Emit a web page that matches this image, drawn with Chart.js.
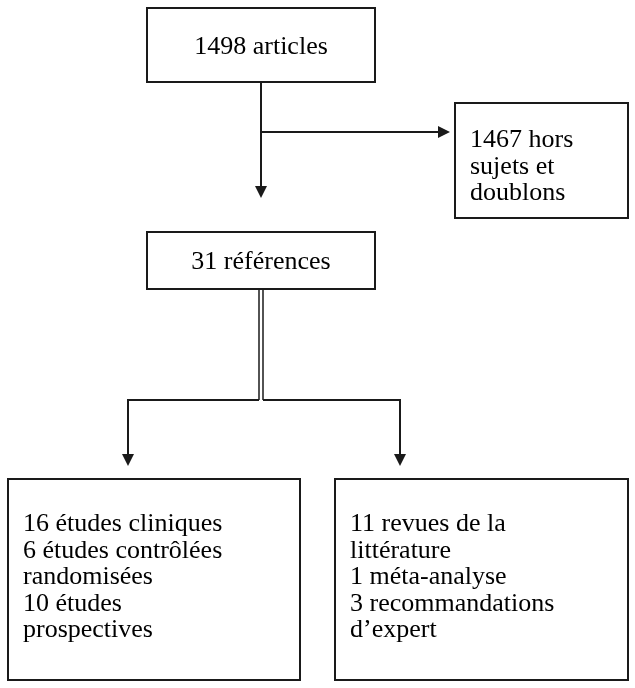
<!DOCTYPE html>
<html>
<head>
<meta charset="utf-8">
<script src="https://cdn.jsdelivr.net/npm/chart.js@4.4.1/dist/chart.umd.min.js"></script>
<style>
  html, body { margin: 0; padding: 0; background: #fff; }
  canvas { display: block; }
</style>
</head>
<body>
<canvas id="flowCanvas" width="635" height="688"></canvas>
<script>
// texte de chaque case
const totalLines = ['1498 articles'];
const excludedLines = ['1467 hors', 'sujets et', 'doublons'];
const retainedLines = ['31 références'];
const studyLines = ['16 études cliniques', '6 études contrôlées', 'randomisées', '10 études', 'prospectives'];
const reviewLines = ['11 revues de la', 'littérature', '1 méta-analyse', '3 recommandations', 'd’expert'];

// mise en page, en unités des axes (x 0-635, y 0-688)
const layout = {
  total:    { x0: 147, x1: 375, y0: 8,   y1: 82,  align: 'center', base: 54 },
  excluded: { x0: 455, x1: 628, y0: 103, y1: 218, align: 'left', base: 147 },
  retained: { x0: 147, x1: 375, y0: 232, y1: 289, align: 'center', base: 269 },
  studies:  { x0: 8,   x1: 300, y0: 479, y1: 680, align: 'left', base: 531 },
  reviews:  { x0: 335, x1: 628, y0: 479, y1: 680, align: 'left', base: 531 }
};
const lineGap = 26.5;
const padLeft = 15;

const flowPlugin = {
  id: 'flow',
  afterDraw(chart) {
    const ctx = chart.ctx;
    const sx = chart.scales.x, sy = chart.scales.y;
    const px = v => sx.getPixelForValue(v);
    const py = v => sy.getPixelForValue(v);

    ctx.save();
    ctx.strokeStyle = '#1a1a1a';
    ctx.fillStyle = '#1a1a1a';
    ctx.lineWidth = 2;

    const line = (x0, y0, x1, y1) => {
      ctx.beginPath();
      ctx.moveTo(px(x0), py(y0));
      ctx.lineTo(px(x1), py(y1));
      ctx.stroke();
    };
    const arrowDown = (x, y) => {
      ctx.beginPath();
      ctx.moveTo(px(x), py(y));
      ctx.lineTo(px(x - 6), py(y - 12));
      ctx.lineTo(px(x + 6), py(y - 12));
      ctx.closePath();
      ctx.fill();
    };
    const arrowRight = (x, y) => {
      ctx.beginPath();
      ctx.moveTo(px(x), py(y));
      ctx.lineTo(px(x - 12), py(y - 6));
      ctx.lineTo(px(x - 12), py(y + 6));
      ctx.closePath();
      ctx.fill();
    };

    const drawBox = (b, lines) => {
      ctx.strokeRect(px(b.x0), py(b.y0), px(b.x1) - px(b.x0), py(b.y1) - py(b.y0));
      ctx.font = '26px "Liberation Serif", "Times New Roman", serif';
      ctx.textBaseline = 'alphabetic';
      ctx.fillStyle = '#000';
      lines.forEach((t, i) => {
        const yy = py(b.base + i * lineGap);
        if (b.align === 'center') {
          ctx.textAlign = 'center';
          ctx.fillText(t, px((b.x0 + b.x1) / 2), yy);
        } else {
          ctx.textAlign = 'left';
          ctx.fillText(t, px(b.x0 + padLeft), yy);
        }
      });
      ctx.fillStyle = '#1a1a1a';
    };

    drawBox(layout.total, totalLines);
    drawBox(layout.excluded, excludedLines);
    drawBox(layout.retained, retainedLines);
    drawBox(layout.studies, studyLines);
    drawBox(layout.reviews, reviewLines);

    // 1498 -> 31
    line(261, 82, 261, 188);
    arrowDown(261, 198);
    // branche vers les exclus
    line(261, 132, 440, 132);
    arrowRight(450, 132);
    // double trait sous 31 références
    ctx.lineWidth = 1.5;
    line(259, 289, 259, 400);
    line(263, 289, 263, 400);
    ctx.lineWidth = 2;
    line(128, 400, 259, 400);
    line(263, 400, 400, 400);
    line(128, 399, 128, 456);
    line(400, 399, 400, 456);
    arrowDown(128, 466);
    arrowDown(400, 466);

    ctx.restore();
  }
};

new Chart(document.getElementById('flowCanvas'), {
  type: 'scatter',
  data: { datasets: [] },
  options: {
    responsive: false,
    animation: false,
    layout: { padding: 0 },
    plugins: { legend: { display: false }, tooltip: { enabled: false } },
    scales: {
      x: { type: 'linear', min: 0, max: 635, display: false },
      y: { type: 'linear', min: 0, max: 688, reverse: true, display: false }
    }
  },
  plugins: [flowPlugin]
});
</script>
</body>
</html>
